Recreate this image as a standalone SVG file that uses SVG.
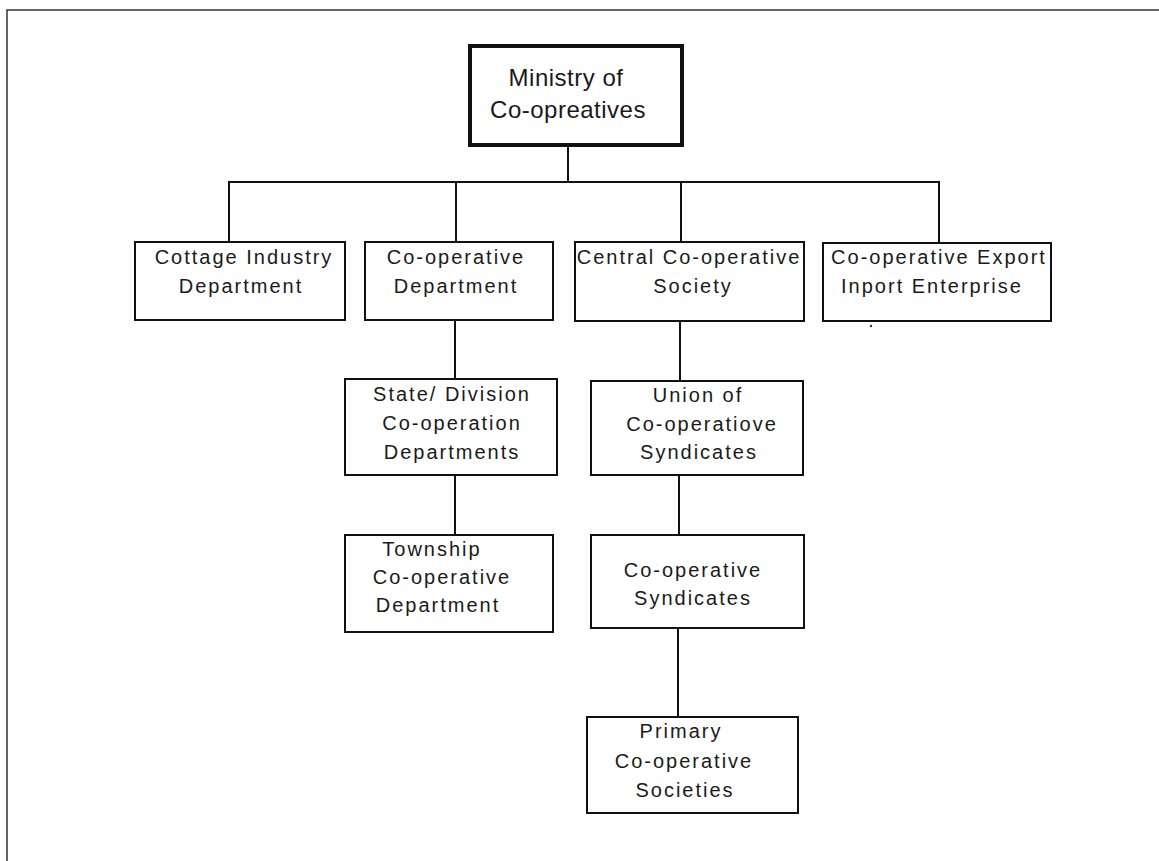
<svg xmlns="http://www.w3.org/2000/svg" width="1159" height="861" viewBox="0 0 1159 861">
<style>
.box{fill:#fff;stroke:#111;stroke-width:2}
.top{fill:#fff;stroke:#111;stroke-width:4}
.t{font-family:"Liberation Sans",Arial,sans-serif;font-size:20px;letter-spacing:2px;fill:#1a1a1a;text-anchor:middle}
.tm{font-family:"Liberation Sans",Arial,sans-serif;font-size:24px;letter-spacing:0.5px;fill:#1a1a1a;text-anchor:middle}
.c{stroke:#111;stroke-width:2;fill:none}
.frame{stroke:#333;stroke-width:1.5;fill:none}
</style>
<rect width="1159" height="861" fill="#fff"/>
<path class="frame" d="M7,861 V10 H1159"/>
<g id="connectors">
<path class="c" d="M568,145 V182"/>
<path class="c" d="M229,242 V182 H939 V243"/>
<path class="c" d="M456,182 V242"/>
<path class="c" d="M681,182 V242"/>
<path class="c" d="M455,320 V379"/>
<path class="c" d="M455,475 V535"/>
<path class="c" d="M680,321 V381"/>
<path class="c" d="M679,475 V535"/>
<path class="c" d="M678,628 V717"/>
</g>
<g id="ministry">
<rect class="top" x="470" y="46" width="212" height="99"/>
<text class="tm" x="566" y="86">Ministry of</text>
<text class="tm" x="568" y="118">Co-opreatives</text>
</g>
<g id="cottage">
<rect class="box" x="135" y="242" width="210" height="78"/>
<text class="t" x="244" y="264">Cottage Industry</text>
<text class="t" x="241" y="293">Department</text>
</g>
<g id="coopdept">
<rect class="box" x="365" y="242" width="188" height="78"/>
<text class="t" x="456" y="264">Co-operative</text>
<text class="t" x="456" y="293">Department</text>
</g>
<g id="central">
<rect class="box" x="575" y="242" width="229" height="79"/>
<text class="t" x="689" y="264">Central Co-operative</text>
<text class="t" x="693" y="293">Society</text>
</g>
<g id="export">
<rect class="box" x="823" y="243" width="228" height="78"/>
<text class="t" x="939" y="264">Co-operative Export</text>
<text class="t" x="932" y="293">Inport Enterprise</text>
</g>
<circle cx="871" cy="326" r="1.2" fill="#333"/>
<g id="state">
<rect class="box" x="345" y="379" width="212" height="96"/>
<text class="t" x="452" y="401">State/ Division</text>
<text class="t" x="452" y="430">Co-operation</text>
<text class="t" x="452" y="459">Departments</text>
</g>
<g id="union">
<rect class="box" x="591" y="381" width="212" height="94"/>
<text class="t" x="698" y="402">Union of</text>
<text class="t" x="702" y="431">Co-operatiove</text>
<text class="t" x="699" y="459">Syndicates</text>
</g>
<g id="township">
<rect class="box" x="345" y="535" width="208" height="97"/>
<text class="t" x="432" y="556">Township</text>
<text class="t" x="442" y="584">Co-operative</text>
<text class="t" x="438" y="612">Department</text>
</g>
<g id="syndicates">
<rect class="box" x="591" y="535" width="213" height="93"/>
<text class="t" x="693" y="577">Co-operative</text>
<text class="t" x="693" y="605">Syndicates</text>
</g>
<g id="primary">
<rect class="box" x="587" y="717" width="211" height="96"/>
<text class="t" x="681" y="738">Primary</text>
<text class="t" x="684" y="768">Co-operative</text>
<text class="t" x="685" y="797">Societies</text>
</g>
</svg>
